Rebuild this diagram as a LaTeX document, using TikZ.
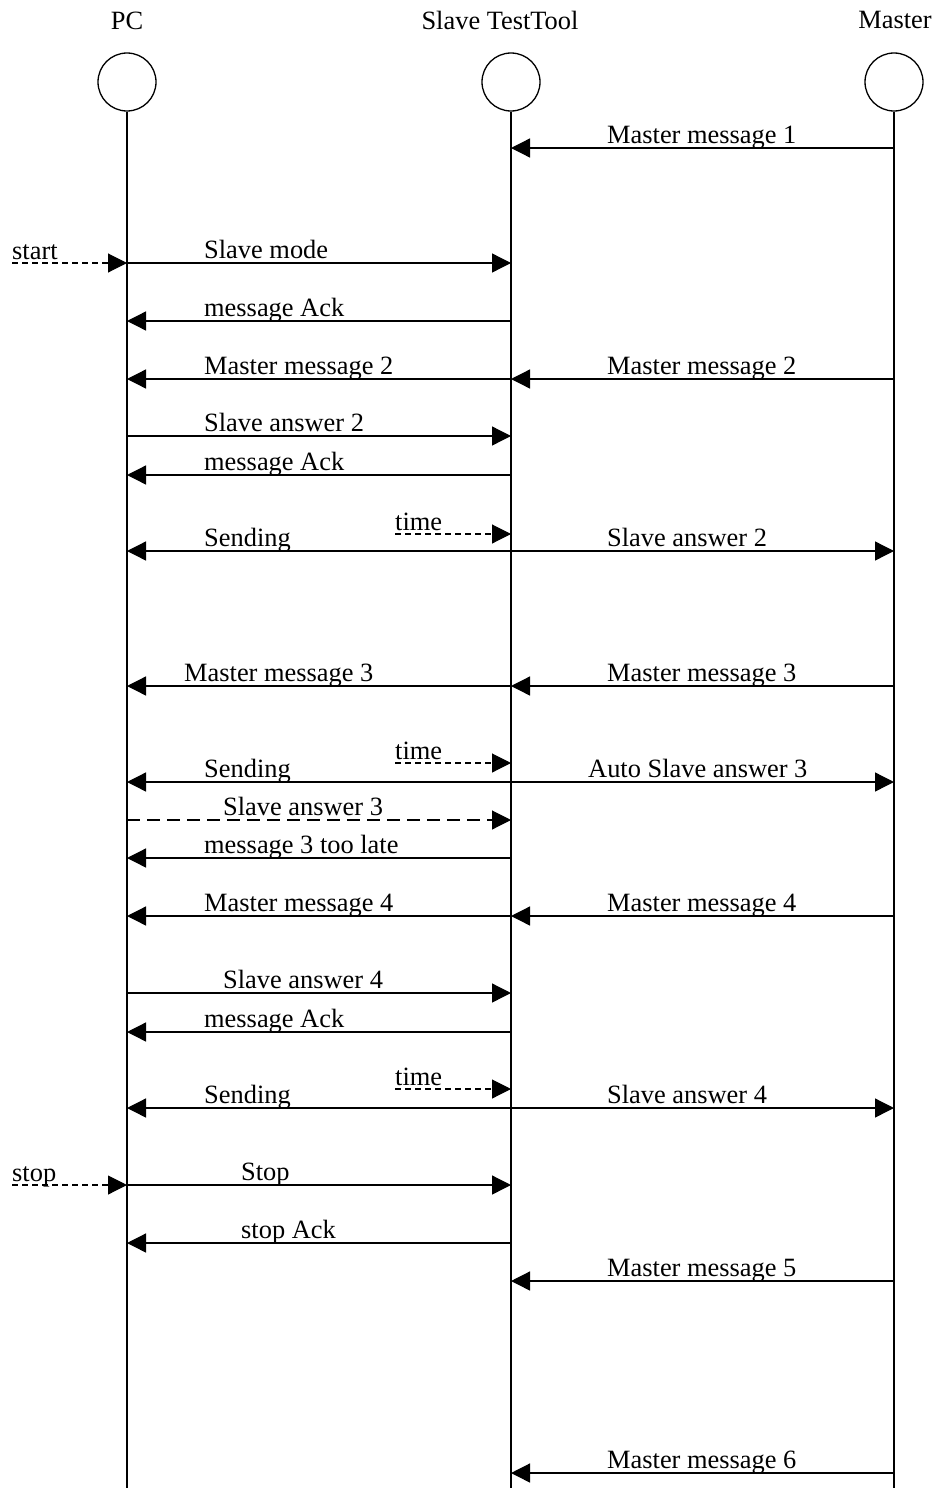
\documentclass[tikz,border=0pt]{standalone}
\usepackage{fontspec}
\setmainfont{Liberation Serif}
\usetikzlibrary{arrows.meta}
\begin{document}
\begin{tikzpicture}[x=1pt,y=1pt,
  font=\fontsize{26.4}{30}\selectfont,
  head/.style={circle, draw, line width=1.3pt, minimum size=58pt, inner sep=0pt},
  life/.style={line width=1.3pt},
  tip/.tip={Triangle[length=19pt,width=19pt]},
  msg/.style={line width=1.3pt, -tip},
  both/.style={line width=1.3pt, tip-tip},
  trig/.style={line width=1.1pt, dash pattern=on 6pt off 4pt, -tip},
  late/.style={line width=1.1pt, dash pattern=on 13pt off 7pt, -tip},
  lbl/.style={anchor=base west, inner sep=0pt},
  ttl/.style={anchor=base, inner sep=0pt}]
\useasboundingbox (0,0) rectangle (934,-1488);
% heads
\node[head] (pc) at (127,-82) {};
\node[head] (sl) at (511,-82) {};
\node[head] (ms) at (894,-82) {};
\node[ttl] (pct) at (127,-30) {PC};
\node[ttl] (slt) at (500,-30) {Slave TestTool};
\node[ttl] (mst) at (895,-29) {Master};
\coordinate (pcb) at (127,-1488);
\coordinate (slb) at (511,-1488);
\coordinate (msb) at (894,-1488);
\draw[life] (pc) -- (pcb);
\draw[life] (sl) -- (slb);
\draw[life] (ms) -- (msb);
% external triggers
\coordinate (start) at (12,-263);
\coordinate (stop) at (12,-1185);
\coordinate (t1) at (395,-534);
\coordinate (t2) at (395,-763);
\coordinate (t3) at (395,-1089);
% messages
\draw[msg] (ms |- 0,-148) -- (sl |- 0,-148);
\node[lbl] at (607,-143) {Master message 1};

\draw[trig] (start) -- (pc |- start);
\node[lbl] at (12,-259) {start};
\draw[msg] (pc |- 0,-263) -- (sl |- 0,-263);
\node[lbl] at (204,-258) {Slave mode};

\draw[msg] (sl |- 0,-321) -- (pc |- 0,-321);
\node[lbl] at (204,-316) {message Ack};

\draw[msg] (sl |- 0,-379) -- (pc |- 0,-379);
\node[lbl] at (204,-374) {Master message 2};
\draw[msg] (ms |- 0,-379) -- (sl |- 0,-379);
\node[lbl] at (607,-374) {Master message 2};

\draw[msg] (pc |- 0,-436) -- (sl |- 0,-436);
\node[lbl] at (204,-431) {Slave answer 2};

\draw[msg] (sl |- 0,-475) -- (pc |- 0,-475);
\node[lbl] at (204,-470) {message Ack};

\draw[trig] (t1) -- (sl |- t1);
\node[lbl] at (395,-530) {time};
\draw[both] (pc |- 0,-551) -- (ms |- 0,-551);
\node[lbl] at (204,-546) {Sending};
\node[lbl] at (607,-546) {Slave answer 2};

\draw[msg] (sl |- 0,-686) -- (pc |- 0,-686);
\node[lbl] at (184,-681) {Master message 3};
\draw[msg] (ms |- 0,-686) -- (sl |- 0,-686);
\node[lbl] at (607,-681) {Master message 3};

\draw[trig] (t2) -- (sl |- t2);
\node[lbl] at (395,-759) {time};
\draw[both] (pc |- 0,-782) -- (ms |- 0,-782);
\node[lbl] at (204,-777) {Sending};
\node[lbl] at (588,-777) {Auto Slave answer 3};

\draw[late] (pc |- 0,-820) -- (sl |- 0,-820);
\node[lbl] at (223,-815) {Slave answer 3};

\draw[msg] (sl |- 0,-858) -- (pc |- 0,-858);
\node[lbl] at (204,-853) {message 3 too late};

\draw[msg] (sl |- 0,-916) -- (pc |- 0,-916);
\node[lbl] at (204,-911) {Master message 4};
\draw[msg] (ms |- 0,-916) -- (sl |- 0,-916);
\node[lbl] at (607,-911) {Master message 4};

\draw[msg] (pc |- 0,-993) -- (sl |- 0,-993);
\node[lbl] at (223,-988) {Slave answer 4};

\draw[msg] (sl |- 0,-1032) -- (pc |- 0,-1032);
\node[lbl] at (204,-1027) {message Ack};

\draw[trig] (t3) -- (sl |- t3);
\node[lbl] at (395,-1085) {time};
\draw[both] (pc |- 0,-1108) -- (ms |- 0,-1108);
\node[lbl] at (204,-1103) {Sending};
\node[lbl] at (607,-1103) {Slave answer 4};

\draw[trig] (stop) -- (pc |- stop);
\node[lbl] at (12,-1181) {stop};
\draw[msg] (pc |- 0,-1185) -- (sl |- 0,-1185);
\node[lbl] at (241,-1180) {Stop};

\draw[msg] (sl |- 0,-1243) -- (pc |- 0,-1243);
\node[lbl] at (241,-1238) {stop Ack};

\draw[msg] (ms |- 0,-1281) -- (sl |- 0,-1281);
\node[lbl] at (607,-1276) {Master message 5};

\draw[msg] (ms |- 0,-1473) -- (sl |- 0,-1473);
\node[lbl] at (607,-1468) {Master message 6};
\end{tikzpicture}
\end{document}
